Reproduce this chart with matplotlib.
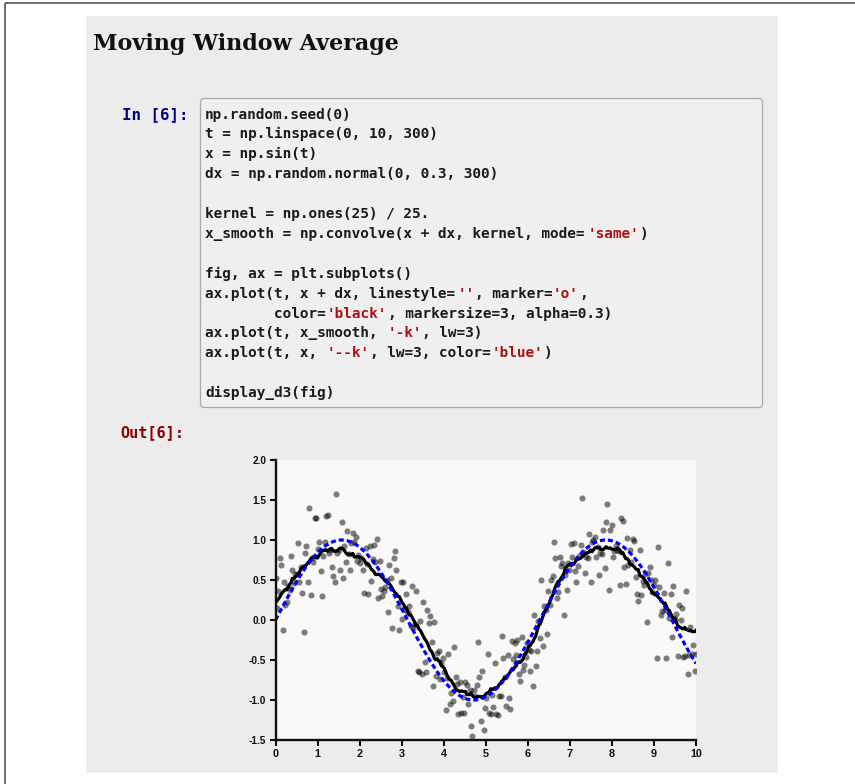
import numpy as np
import matplotlib
matplotlib.use('Agg')
import matplotlib.pyplot as plt
from matplotlib.patches import Rectangle, FancyBboxPatch

plt.rcParams['axes.unicode_minus'] = False
plt.rcParams['lines.scale_dashes'] = False

# noisy samples x + dx (300 points, t from 0 to 10)
noisy = [
    0.53, 0.15, 0.36, 0.77, 0.69, -0.13, 0.48, 0.19, 0.23, 0.42,
    0.37, 0.80, 0.62, 0.46, 0.58, 0.58, 0.96, 0.48, 0.66, 0.34,
    -0.15, 0.84, 0.93, 0.47, 1.40, 0.31, 0.78, 0.73, 1.27, 1.27,
    0.89, 0.97, 0.61, 0.30, 0.80, 0.97, 1.30, 1.31, 0.84, 0.87,
    0.66, 0.55, 0.47, 1.58, 0.84, 0.87, 0.62, 1.23, 0.52, 0.93,
    0.73, 1.11, 0.83, 0.63, 0.96, 1.09, 0.98, 1.04, 0.74, 0.81,
    0.71, 0.78, 0.63, 0.34, 0.90, 0.70, 0.32, 0.92, 0.49, 0.76,
    0.94, 0.73, 1.01, 0.27, 0.74, 0.39, 0.30, 0.36, 0.41, 0.50,
    0.10, 0.69, 0.53, -0.10, 0.77, 0.86, 0.62, 0.18, -0.12, 0.48,
    0.01, 0.47, 0.13, 0.32, 0.10, 0.18, -0.07, 0.43, -0.10, -0.05,
    0.36, -0.64, -0.65, -0.01, -0.68, 0.22, -0.52, -0.65, 0.12, -0.04,
    0.05, -0.27, -0.83, -0.02, -0.70, -0.41, -0.39, -0.74, -0.54, -0.47,
    -0.65, -1.12, -0.72, -0.43, -1.05, -0.91, -1.01, -0.34, -0.71, -0.80,
    -1.17, -0.78, -1.16, -0.96, -1.16, -0.78, -0.81, -1.05, -0.88, -1.33,
    -1.45, -0.87, -0.95, -0.81, -0.28, -0.71, -1.26, -0.64, -1.37, -1.10,
    -0.97, -0.43, -1.16, -1.17, -0.94, -1.09, -0.54, -1.18, -1.19, -0.95,
    -0.95, -0.20, -0.48, -0.71, -1.08, -0.44, -0.97, -1.11, -0.26, -0.49,
    -0.29, -0.44, -0.25, -0.67, -0.76, -0.21, -0.63, -0.56, -0.46, -0.29,
    -0.37, -0.64, -0.39, -0.83, 0.06, -0.58, -0.39, -0.01, -0.22, 0.50,
    -0.32, 0.18, 0.13, -0.18, 0.36, 0.19, 0.50, 0.55, 0.98, 0.77,
    0.28, 0.35, 0.79, 0.68, 0.71, 0.06, 0.56, 0.38, 0.71, 0.62,
    0.95, 0.79, 0.96, 0.61, 0.48, 0.67, 0.80, 0.94, 1.52, 0.85,
    0.59, 0.79, 0.77, 1.07, 0.47, 0.97, 1.00, 1.04, 0.79, 0.91,
    0.56, 0.84, 0.83, 1.12, 0.65, 1.23, 1.45, 0.38, 1.12, 1.19,
    0.79, 0.86, 0.93, 0.87, 0.86, 0.44, 1.28, 1.24, 0.66, 0.45,
    1.03, 0.69, 0.88, 0.73, 1.01, 0.99, 0.54, 0.32, 0.24, 0.87,
    0.31, 0.49, 0.44, 0.57, -0.02, 0.59, 0.66, 0.50, 0.35, 0.44,
    0.50, -0.48, 0.91, 0.41, 0.06, 0.11, 0.34, 0.13, -0.48, 0.71,
    0.03, 0.33, -0.21, 0.42, 0.01, 0.08, -0.45, 0.19, 0.00, 0.15,
    -0.46, -0.45, 0.36, -0.68, -0.44, -0.09, -0.43, -0.31, -0.64, -0.43,
]

# 25-point moving average (solid black line)
smooth = [
    0.219, 0.238, 0.261, 0.284, 0.322, 0.342, 0.368, 0.382, 0.376, 0.409,
    0.446, 0.465, 0.521, 0.512, 0.538, 0.552, 0.572, 0.596, 0.636, 0.656,
    0.673, 0.676, 0.691, 0.715, 0.735, 0.762, 0.778, 0.789, 0.792, 0.776,
    0.776, 0.812, 0.832, 0.873, 0.864, 0.876, 0.878, 0.860, 0.876, 0.890,
    0.894, 0.868, 0.856, 0.864, 0.864, 0.881, 0.899, 0.899, 0.889, 0.868,
    0.841, 0.821, 0.822, 0.824, 0.814, 0.832, 0.789, 0.786, 0.788, 0.793,
    0.784, 0.774, 0.766, 0.753, 0.720, 0.702, 0.693, 0.674, 0.635, 0.623,
    0.603, 0.569, 0.568, 0.574, 0.567, 0.549, 0.531, 0.514, 0.486, 0.492,
    0.461, 0.454, 0.428, 0.397, 0.365, 0.342, 0.327, 0.296, 0.294, 0.257,
    0.216, 0.200, 0.152, 0.157, 0.109, 0.062, 0.070, 0.038, 0.006, -0.030,
    -0.070, -0.066, -0.114, -0.130, -0.165, -0.200, -0.234, -0.257, -0.290, -0.332,
    -0.378, -0.391, -0.431, -0.482, -0.497, -0.484, -0.512, -0.517, -0.573, -0.583,
    -0.604, -0.647, -0.692, -0.725, -0.746, -0.755, -0.790, -0.815, -0.856, -0.876,
    -0.884, -0.895, -0.887, -0.890, -0.895, -0.892, -0.930, -0.932, -0.934, -0.911,
    -0.944, -0.962, -0.968, -0.964, -0.955, -0.956, -0.965, -0.956, -0.963, -0.939,
    -0.916, -0.909, -0.899, -0.859, -0.863, -0.869, -0.847, -0.856, -0.839, -0.806,
    -0.790, -0.762, -0.749, -0.718, -0.726, -0.702, -0.674, -0.648, -0.619, -0.623,
    -0.592, -0.577, -0.537, -0.522, -0.530, -0.511, -0.491, -0.428, -0.423, -0.377,
    -0.328, -0.324, -0.290, -0.271, -0.234, -0.202, -0.136, -0.074, -0.055, -0.016,
    0.038, 0.084, 0.124, 0.141, 0.189, 0.220, 0.282, 0.304, 0.365, 0.412,
    0.451, 0.484, 0.484, 0.523, 0.548, 0.580, 0.648, 0.668, 0.684, 0.696,
    0.704, 0.708, 0.696, 0.724, 0.750, 0.760, 0.764, 0.772, 0.792, 0.803,
    0.821, 0.838, 0.839, 0.850, 0.876, 0.853, 0.874, 0.902, 0.907, 0.909,
    0.909, 0.883, 0.883, 0.877, 0.897, 0.916, 0.899, 0.898, 0.901, 0.888,
    0.882, 0.880, 0.884, 0.901, 0.889, 0.868, 0.833, 0.842, 0.805, 0.767,
    0.769, 0.747, 0.699, 0.691, 0.683, 0.666, 0.645, 0.628, 0.630, 0.560,
    0.547, 0.537, 0.521, 0.484, 0.470, 0.440, 0.392, 0.380, 0.342, 0.333,
    0.312, 0.319, 0.285, 0.276, 0.238, 0.228, 0.205, 0.212, 0.170, 0.126,
    0.120, 0.079, 0.044, 0.020, 0.022, -0.027, -0.069, -0.088, -0.093, -0.106,
    -0.112, -0.092, -0.121, -0.122, -0.135, -0.127, -0.144, -0.144, -0.147, -0.129,
]

# underlying clean signal (dashed blue line)
clean = [
    0.000, 0.033, 0.067, 0.100, 0.133, 0.166, 0.199, 0.232, 0.264, 0.297,
    0.328, 0.360, 0.391, 0.421, 0.451, 0.481, 0.510, 0.539, 0.566, 0.594,
    0.620, 0.646, 0.671, 0.696, 0.719, 0.742, 0.764, 0.785, 0.805, 0.825,
    0.843, 0.861, 0.877, 0.893, 0.908, 0.921, 0.934, 0.945, 0.955, 0.965,
    0.973, 0.980, 0.986, 0.991, 0.995, 0.998, 1.000, 1.000, 0.999, 0.998,
    0.995, 0.991, 0.986, 0.980, 0.973, 0.964, 0.955, 0.945, 0.933, 0.921,
    0.907, 0.892, 0.877, 0.860, 0.843, 0.824, 0.805, 0.784, 0.763, 0.741,
    0.718, 0.694, 0.670, 0.644, 0.618, 0.592, 0.564, 0.536, 0.507, 0.479,
    0.449, 0.419, 0.389, 0.358, 0.326, 0.294, 0.262, 0.230, 0.197, 0.164,
    0.131, 0.098, 0.065, 0.031, -0.002, -0.036, -0.069, -0.102, -0.136, -0.169,
    -0.202, -0.234, -0.267, -0.299, -0.330, -0.362, -0.393, -0.423, -0.453, -0.483,
    -0.512, -0.540, -0.568, -0.595, -0.622, -0.648, -0.673, -0.697, -0.721, -0.744,
    -0.766, -0.787, -0.807, -0.826, -0.845, -0.862, -0.879, -0.894, -0.909, -0.922,
    -0.934, -0.946, -0.956, -0.965, -0.974, -0.981, -0.987, -0.992, -0.995, -0.998,
    -1.000, -1.000, -0.999, -0.998, -0.995, -0.991, -0.986, -0.980, -0.972, -0.964,
    -0.954, -0.944, -0.932, -0.920, -0.906, -0.892, -0.876, -0.859, -0.842, -0.823,
    -0.804, -0.783, -0.762, -0.740, -0.717, -0.693, -0.668, -0.643, -0.616, -0.590,
    -0.562, -0.534, -0.505, -0.476, -0.446, -0.416, -0.385, -0.354, -0.323, -0.291,
    -0.260, -0.228, -0.195, -0.162, -0.129, -0.096, -0.063, -0.029, 0.004, 0.038,
    0.071, 0.105, 0.138, 0.171, 0.204, 0.236, 0.269, 0.301, 0.332, 0.364,
    0.395, 0.425, 0.455, 0.485, 0.514, 0.542, 0.570, 0.597, 0.624, 0.649,
    0.674, 0.699, 0.722, 0.745, 0.767, 0.788, 0.808, 0.827, 0.846, 0.863,
    0.879, 0.895, 0.909, 0.923, 0.935, 0.946, 0.957, 0.966, 0.974, 0.981,
    0.987, 0.992, 0.996, 0.998, 1.000, 1.000, 0.999, 0.998, 0.995, 0.991,
    0.985, 0.979, 0.972, 0.963, 0.954, 0.943, 0.932, 0.919, 0.905, 0.890,
    0.875, 0.858, 0.840, 0.822, 0.802, 0.782, 0.760, 0.738, 0.715, 0.691,
    0.666, 0.641, 0.615, 0.588, 0.560, 0.532, 0.504, 0.475, 0.445, 0.415,
    0.385, 0.354, 0.322, 0.290, 0.258, 0.226, 0.193, 0.160, 0.127, 0.094,
    0.060, 0.027, -0.007, -0.040, -0.073, -0.107, -0.140, -0.173, -0.206, -0.239,
    -0.271, -0.303, -0.335, -0.366, -0.397, -0.427, -0.457, -0.487, -0.516, -0.544,
]

t = np.linspace(0, 10, len(noisy))

xticks = [0, 1, 2, 3, 4, 5, 6, 7, 8, 9, 10]
yticks = [-1.5, -1.0, -0.5, 0.0, 0.5, 1.0, 1.5, 2.0]

RED = '#aa1111'
TXT = '#1a1a1a'
code_lines = [
    [("np.random.seed(0)", TXT)],
    [("t = np.linspace(0, 10, 300)", TXT)],
    [("x = np.sin(t)", TXT)],
    [("dx = np.random.normal(0, 0.3, 300)", TXT)],
    [],
    [("kernel = np.ones(25) / 25.", TXT)],
    [("x_smooth = np.convolve(x + dx, kernel, mode=", TXT), ("'same'", RED), (")", TXT)],
    [],
    [("fig, ax = plt.subplots()", TXT)],
    [("ax.plot(t, x + dx, linestyle=", TXT), ("''", RED), (", marker=", TXT), ("'o'", RED), (",", TXT)],
    [("        color=", TXT), ("'black'", RED), (", markersize=3, alpha=0.3)", TXT)],
    [("ax.plot(t, x_smooth, ", TXT), ("'-k'", RED), (", lw=3)", TXT)],
    [("ax.plot(t, x, ", TXT), ("'--k'", RED), (", lw=3, color=", TXT), ("'blue'", RED), (")", TXT)],
    [],
    [("display_d3(fig)", TXT)],
]

W, H = 855, 784
fig = plt.figure(figsize=(W / 100, H / 100), dpi=100)
fig.patch.set_facecolor('white')

# page layer, pixel coordinates (y down)
bg = fig.add_axes([0, 0, 1, 1])
bg.set_xlim(0, W)
bg.set_ylim(H, 0)
bg.axis('off')

bg.plot([4.5, W], [3, 3], color='#555555', lw=1.2, solid_capstyle='butt')
bg.plot([4.5, 4.5], [3, H], color='#555555', lw=1.2, solid_capstyle='butt')
bg.add_patch(Rectangle((86, 16), 692, 757, facecolor='#ececec', edgecolor='none'))

bg.text(93, 50, "Moving Window Average", family='DejaVu Serif', weight='bold',
        fontsize=16, color='#111111', va='baseline', ha='left')

bg.add_patch(FancyBboxPatch((200.5, 98.5), 562, 309,
                            boxstyle='round,pad=0,rounding_size=4',
                            facecolor='#efefef', edgecolor='#a9a9a9', lw=0.9))

bg.text(122, 115, "In [6]:", family='DejaVu Sans Mono', weight='bold',
        fontsize=11.3, color='#000080', va='center', ha='left')
bg.text(120, 433, "Out[6]:", family='DejaVu Sans Mono', weight='bold',
        fontsize=11, color='#8b0000', va='center', ha='left')

fs = 10.4
adv = fs * 0.60205 * 100 / 72
x0, y0, dy = 205, 114.5, 19.9
for n, segs in enumerate(code_lines):
    col = 0
    for s, c in segs:
        bg.text(x0 + col * adv, y0 + n * dy, s, family='DejaVu Sans Mono',
                weight='bold', fontsize=fs, color=c, va='center', ha='left')
        col += len(s)

# the plot
ax = fig.add_axes([275.5 / W, 1 - 740 / H, 420.5 / W, 280 / H])
ax.set_facecolor('#f9f9f9')
ax.plot(t, noisy, linestyle='', marker='o', color='black', markersize=4.4,
        markeredgewidth=0, alpha=0.5)
ax.plot(t, smooth, '-k', lw=2.3)
ax.plot(t, clean, '--', lw=2.3, color='blue', dashes=(3.6, 2.2))

ax.set_xlim(0, 10)
ax.set_ylim(-1.5, 2.0)
ax.set_xticks(xticks)
ax.set_yticks(yticks)
ax.set_xticklabels([str(v) for v in xticks])
ax.set_yticklabels(['%.1f' % v for v in yticks])
for s in ['top', 'right']:
    ax.spines[s].set_visible(False)
for s in ['left', 'bottom']:
    ax.spines[s].set_linewidth(1.7)
    ax.spines[s].set_color('#111111')
ax.tick_params(axis='both', direction='out', length=4.5, width=1.5, color='#111111')
ax.tick_params(axis='y', labelsize=7.3, pad=2)
ax.tick_params(axis='x', labelsize=7.8, pad=2)
for lab in ax.get_xticklabels() + ax.get_yticklabels():
    lab.set_family('Liberation Sans')
    lab.set_weight('bold')
    lab.set_color('#111111')

fig.savefig('out.png', dpi=100, facecolor='white')
